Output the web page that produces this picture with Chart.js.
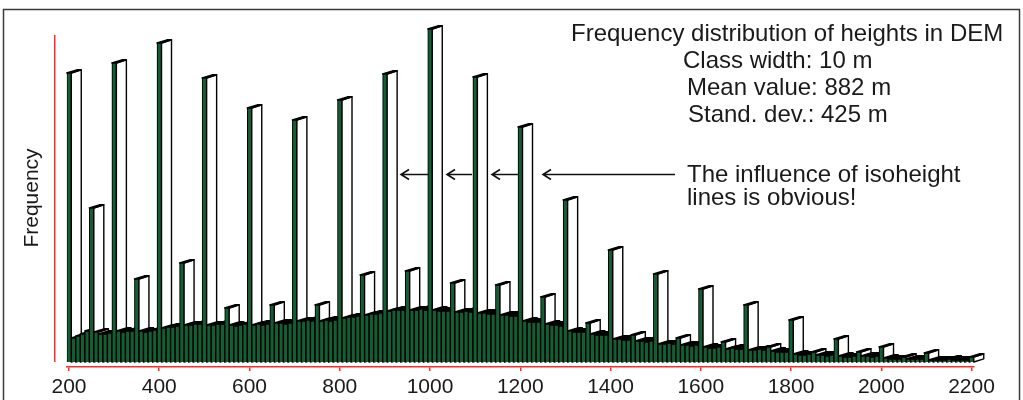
<!DOCTYPE html>
<html><head><meta charset="utf-8">
<script src="https://cdn.jsdelivr.net/npm/chart.js@4.4.1/dist/chart.umd.min.js"></script>
<style>html,body{margin:0;padding:0;background:#fff;}canvas{display:block;}</style>
</head><body>
<canvas id="c" width="1023" height="400"></canvas>
<script>
// Height classes (m), class width 10 m
const classStart = 200, classWidth = 10, classCount = 201;
const categories = Array.from({length: classCount}, (_, i) => classStart + i * classWidth);

// Frequency per class (arbitrary units)
const frequency = [
  289, 24, 26, 28, 31, 154, 30, 28, 28, 29,
  299, 31, 30, 31, 31, 83, 31, 30, 31, 32,
  319, 34, 35, 35, 36, 99, 37, 37, 38, 38,
  284, 37, 37, 38, 38, 54, 37, 36, 37, 38,
  254, 37, 38, 37, 38, 57, 39, 39, 38, 39,
  242, 41, 41, 42, 41, 57, 41, 42, 41, 42,
  262, 44, 45, 45, 46, 87, 47, 48, 48, 49,
  288, 51, 52, 52, 52, 91, 52, 52, 53, 52,
  333, 52, 51, 51, 51, 79, 50, 50, 51, 50,
  285, 49, 49, 48, 48, 77, 47, 47, 46, 46,
  235, 41, 40, 40, 40, 65, 38, 37, 37, 36,
  162, 31, 30, 30, 30, 39, 28, 27, 27, 27,
  112, 23, 23, 22, 22, 27, 21, 21, 20, 21,
  88, 18, 18, 19, 18, 24, 17, 17, 16, 17,
  73, 15, 14, 14, 15, 20, 13, 14, 13, 13,
  57, 12, 12, 13, 12, 15, 11, 10, 10, 10,
  42, 8, 7, 7, 8, 10, 7, 7, 6, 7,
  23, 6, 5, 5, 6, 10, 6, 6, 5, 6,
  15, 4, 3, 3, 3, 5, 3, 3, 3, 3,
  9, 2, 2, 2, 2, 3, 2, 2, 2, 2,
  5
];

const tickLabels = [200, 400, 600, 800, 1000, 1200, 1400, 1600, 1800, 2000, 2200];

const infoLines = [
  'Frequency distribution of heights in DEM',
  'Class width: 10 m',
  'Mean value: 882 m',
  'Stand. dev.: 425 m'
];
const noteLines = ['The influence of isoheight', 'lines is obvious!'];
const yTitle = 'Frequency';

const RED = '#ff2b2b';
const GREEN = '#145e34';
const FONT = '"Liberation Sans", Arial, sans-serif';
const DX = 10, DY = 3.2;

const deco = {
  id: 'deco',
  beforeDraw(chart) {
    const ctx = chart.ctx;
    ctx.save();
    ctx.fillStyle = '#fff';
    ctx.fillRect(0, 0, chart.width, chart.height);
    ctx.strokeStyle = '#3a3a3a';
    ctx.lineWidth = 1.5;
    ctx.strokeRect(3.5, 9.5, 1016, 430);
    ctx.restore();
  },
  beforeDatasetsDraw(chart) {
    const ctx = chart.ctx;
    const meta = chart.getDatasetMeta(0);
    ctx.save();
    ctx.lineWidth = 1.4;
    ctx.strokeStyle = '#000';
    ctx.fillStyle = '#fff';
    ctx.lineJoin = 'round';
    meta.data.forEach(el => {
      const p = el.getProps(['x', 'y', 'base', 'width'], true);
      const l = p.x - p.width / 2, r = p.x + p.width / 2;
      ctx.beginPath();
      ctx.moveTo(r, p.y); ctx.lineTo(r + DX, p.y - DY);
      ctx.lineTo(r + DX, p.base - DY); ctx.lineTo(r, p.base);
      ctx.closePath(); ctx.fill(); ctx.stroke();
      ctx.beginPath();
      ctx.moveTo(l, p.y); ctx.lineTo(r, p.y);
      ctx.lineTo(r + DX, p.y - DY); ctx.lineTo(l + DX, p.y - DY);
      ctx.closePath(); ctx.fill(); ctx.stroke();
    });
    ctx.restore();
  },
  afterDraw(chart) {
    const ctx = chart.ctx;
    const ys = chart.scales.y;
    const area = chart.chartArea;
    ctx.save();
    // y axis line
    ctx.strokeStyle = RED;
    ctx.lineWidth = 1.5;
    ctx.beginPath();
    ctx.moveTo(area.left - 12, area.top + 15);
    ctx.lineTo(area.left - 12, ys.getPixelForValue(0));
    ctx.stroke();
    // y title
    ctx.fillStyle = '#1a1a1a';
    ctx.font = '21px ' + FONT;
    ctx.textAlign = 'center';
    ctx.textBaseline = 'middle';
    ctx.save();
    ctx.translate(32, 198);
    ctx.rotate(-Math.PI / 2);
    ctx.fillText(yTitle, 0, 0);
    ctx.restore();
    // info block
    ctx.font = '24px ' + FONT;
    ctx.textAlign = 'left';
    ctx.textBaseline = 'alphabetic';
    const infoX = [571, 683, 687, 688];
    const infoY = [41, 68, 95, 122];
    infoLines.forEach((t, i) => ctx.fillText(t, infoX[i], infoY[i]));
    // note
    ctx.fillText(noteLines[0], 687, 182);
    ctx.fillText(noteLines[1], 687, 205);
    // arrows
    ctx.strokeStyle = '#111';
    ctx.lineWidth = 1.6;
    const ay = 174.5;
    [[401, 429], [447, 472], [492, 518], [543, 675]].forEach(([tip, end]) => {
      ctx.beginPath();
      ctx.moveTo(end, ay); ctx.lineTo(tip, ay);
      ctx.moveTo(tip + 8, ay - 5); ctx.lineTo(tip, ay); ctx.lineTo(tip + 8, ay + 5);
      ctx.stroke();
    });
    ctx.restore();
  }
};

new Chart(document.getElementById('c'), {
  type: 'bar',
  data: {
    labels: categories,
    datasets: [{
      data: frequency,
      backgroundColor: GREEN,
      borderColor: '#000',
      borderWidth: 1.1,
      barPercentage: 1,
      categoryPercentage: 1
    }]
  },
  options: {
    responsive: false,
    animation: false,
    devicePixelRatio: 1,
    layout: { padding: { left: 66.74, right: 49.24, top: 20, bottom: 0 } },
    plugins: { legend: { display: false }, tooltip: { enabled: false } },
    scales: {
      x: {
        type: 'category',
        offset: true,
        grid: {
          display: true, drawOnChartArea: false, drawTicks: true, tickLength: 4, offset: false,
          lineWidth: 1.5,
          color: c => tickLabels.includes(categories[c.index]) ? RED : 'rgba(0,0,0,0)'
        },
        border: { display: true, color: RED, width: 1.5 },
        ticks: {
          autoSkip: false, maxRotation: 0, minRotation: 0, padding: 4,
          color: '#1a1a1a', font: { family: FONT, size: 21 },
          callback: (v, i) => tickLabels.includes(categories[i]) ? String(categories[i]) : ''
        },
        afterFit(scale) { scale.height = 33; }
      },
      y: { display: false, min: -5, max: 342 }
    }
  },
  plugins: [deco]
});
</script>
</body></html>
